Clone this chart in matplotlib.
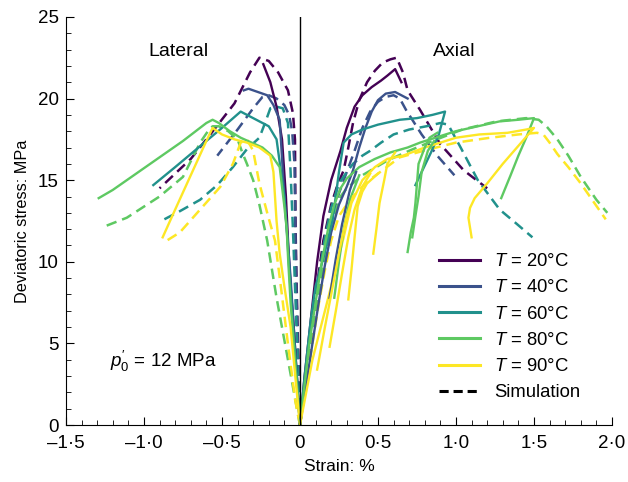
import matplotlib
matplotlib.use("Agg")
import matplotlib.pyplot as plt
from matplotlib.lines import Line2D
from matplotlib.ticker import MultipleLocator, FixedLocator, FixedFormatter

plt.rcParams['font.family'] = ['Liberation Sans', 'DejaVu Sans']
plt.rcParams['font.size'] = 12
plt.rcParams['mathtext.fontset'] = 'custom'
plt.rcParams['mathtext.it'] = 'Liberation Sans:italic'
plt.rcParams['mathtext.rm'] = 'Liberation Sans'

temps = [20, 40, 60, 80, 90]
colors = ['#440154', '#3b528b', '#21918c', '#5ec962', '#fde725']

# --- lateral strain, tests (solid) ---
lat_exp_20_x = [0, -0.02, -0.04, -0.06, -0.075, -0.09, -0.115, -0.15, -0.19, -0.235]
lat_exp_20_y = [0, 3, 6, 8.5, 11, 14, 17.5, 19.5, 21, 22.1]
lat_exp_40_x = [0, -0.02, -0.04, -0.06, -0.08, -0.1, -0.13, -0.17, -0.21, -0.27, -0.33, -0.36]
lat_exp_40_y = [0, 3, 6, 9, 11.5, 14, 18.7, 19.6, 20.2, 20.4, 20.6, 20.5]
lat_exp_60_x = [0, -0.02, -0.045, -0.065, -0.08, -0.1, -0.15, -0.2, -0.3, -0.38, -0.5, -0.65, -0.8, -0.94]
lat_exp_60_y = [0, 3, 6, 9, 11.3, 14, 17.5, 18.3, 18.8, 19.2, 18.2, 17.0, 15.8, 14.7]
lat_exp_80_x = [0, -0.02, -0.04, -0.06, -0.075, -0.085, -0.1, -0.13, -0.18, -0.24, -0.31, -0.38,
                -0.45, -0.52, -0.56, -0.6, -0.75, -0.9, -1.05, -1.2, -1.29]
lat_exp_80_y = [0, 2.5, 5, 7.5, 10, 12, 13.4, 15.8, 16.5, 17.0, 17.3, 17.6,
                18.0, 18.5, 18.7, 18.5, 17.4, 16.4, 15.4, 14.4, 13.9]
lat_exp_90_x = [0, -0.03, -0.06, -0.1, -0.13, -0.15, -0.16, -0.17, -0.19, -0.26, -0.34, -0.42,
                -0.5, -0.56, -0.6, -0.7, -0.8, -0.88]
lat_exp_90_y = [0, 3, 6, 8.5, 10.5, 12.5, 14, 15.5, 16.5, 17.0, 17.3, 17.5,
                17.8, 18.2, 17.4, 15.3, 13.2, 11.5]

# --- lateral strain, model (dashed) ---
lat_sim_20_x = [0, -0.01, -0.02, -0.028, -0.032, -0.045, -0.077, -0.14, -0.2, -0.26, -0.32,
                -0.42, -0.55, -0.7, -0.9]
lat_sim_20_y = [0, 4, 8, 12, 17.5, 19.1, 20.5, 21.6, 22.3, 22.5, 21.6, 19.7, 18.1, 16.3, 14.5]
lat_sim_40_x = [0, -0.012, -0.022, -0.03, -0.035, -0.05, -0.07, -0.1, -0.15, -0.2, -0.24,
                -0.3, -0.4, -0.53]
lat_sim_40_y = [0, 4, 8, 12, 16, 18, 19, 19.6, 20.0, 20.2, 20.1, 19.4, 18.1, 16.5]
lat_sim_60_x = [0, -0.015, -0.03, -0.045, -0.06, -0.077, -0.11, -0.15, -0.19, -0.22, -0.26,
                -0.34, -0.43, -0.53, -0.64, -0.77, -0.87]
lat_sim_60_y = [0, 4, 8, 12, 15.5, 18.5, 19.4, 19.5, 19.4, 18.6, 17.6,
                16.9, 15.8, 14.7, 13.8, 13.1, 12.6]
lat_sim_80_x = [0, -0.05, -0.1, -0.15, -0.21, -0.26, -0.3, -0.34, -0.37, -0.4, -0.46, -0.52,
                -0.56, -0.59, -0.64, -0.75, -0.9, -1.11, -1.27]
lat_sim_80_y = [0, 2.6, 5.2, 7.8, 11.3, 13.5, 15.0, 16.0, 16.7, 17.5, 18.0, 18.3,
                18.3, 18.0, 17.3, 15.2, 14.0, 12.7, 12.1]
lat_sim_90_x = [0, -0.03, -0.08, -0.12, -0.16, -0.21, -0.26, -0.3, -0.34, -0.38, -0.43,
                -0.51, -0.64, -0.77, -0.87]
lat_sim_90_y = [0, 1.5, 5.2, 8.3, 11.3, 13.0, 14.8, 16.8, 17.5, 17.3, 16.0, 14.6, 13.2, 11.8, 11.2]

# --- axial strain, tests (solid) ---
ax_exp_20_x = [0, 0.03, 0.07, 0.11, 0.15, 0.2, 0.26, 0.3, 0.35, 0.4, 0.46, 0.52, 0.56, 0.61, 0.65]
ax_exp_20_y = [0, 3, 6.5, 10, 12.8, 15, 16.8, 18.2, 19.5, 20.2, 20.7, 21.1, 21.4, 21.8, 21.0]
ax_exp_40_x = [0, 0.04, 0.08, 0.12, 0.16, 0.2, 0.25, 0.3, 0.34, 0.38, 0.42, 0.46, 0.5,
               0.55, 0.61, 0.65, 0.69]
ax_exp_40_y = [0, 2.5, 5, 7.5, 9.8, 11.8, 13.5, 14.6, 15.6, 17.0, 18.2, 19.2, 19.9,
               20.3, 20.4, 20.2, 20.0]
ax_exp_60_x = [0, 0.03, 0.07, 0.1, 0.13, 0.17, 0.21, 0.25, 0.28, 0.33, 0.4, 0.5, 0.64,
               0.75, 0.85, 0.93, 0.89, 0.84, 0.79, 0.74]
ax_exp_60_y = [0, 3, 6.5, 8.5, 9.5, 11, 12.6, 15.5, 17.3, 17.8, 18.1, 18.4, 18.7,
               18.8, 19.0, 19.2, 17.8, 16.7, 15.7, 14.7]
ax_exp_80_x = [0, 0.03, 0.06, 0.1, 0.14, 0.18, 0.22, 0.26, 0.3, 0.38, 0.48, 0.58, 0.69,
               0.77, 0.9, 1.0, 1.14, 1.28, 1.4, 1.5, 1.45, 1.4, 1.35, 1.29]
ax_exp_80_y = [0, 2.5, 5, 7.5, 10, 12, 13.5, 14.5, 15.1, 15.8, 16.3, 16.7, 17.0,
               17.3, 17.7, 18.0, 18.3, 18.6, 18.7, 18.8, 17.6, 16.5, 15.3, 13.9]
ax_exp_90_x = [0, 0.04, 0.08, 0.12, 0.16, 0.2, 0.24, 0.28, 0.33, 0.4, 0.48, 0.56, 0.66,
               0.8, 1.0, 1.15, 1.33, 1.45, 1.5, 1.4, 1.3, 1.2, 1.12, 1.09, 1.08, 1.09, 1.1]
ax_exp_90_y = [0, 2, 4, 5.5, 7, 8.5, 10, 11.5, 13.6, 15.0, 15.8, 16.3, 16.5,
               17.0, 17.6, 17.8, 17.9, 18.1, 18.2, 17.1, 16.0, 14.8, 13.9, 13.3, 12.7, 12.1, 11.5]

# reloading branches of repeated tests
rel_40_x = [0.19, 0.23, 0.27, 0.32, 0.36]
rel_40_y = [7.8, 10.2, 12.3, 14.4, 15.5]
rel_80a_x = [0.69, 0.71, 0.73, 0.74, 0.76, 0.8, 0.83, 0.88]
rel_80a_y = [10.6, 11.8, 12.7, 13.6, 16.0, 17.0, 17.6, 17.9]
rel_80b_x = [0.72, 0.74, 0.76, 0.78, 0.82, 0.86]
rel_80b_y = [11.5, 12.8, 14.0, 15.5, 16.8, 17.4]
rel_80c_x = [0.22, 0.25, 0.28, 0.32, 0.38]
rel_80c_y = [7.8, 10.0, 12.0, 13.8, 15.3]
rel_90a_x = [0.11, 0.16, 0.21, 0.26, 0.3, 0.34]
rel_90a_y = [3.4, 6.0, 8.5, 11.0, 12.8, 14.0]
rel_90b_x = [0.19, 0.23, 0.27, 0.31, 0.35, 0.4, 0.45]
rel_90b_y = [4.8, 7, 9.3, 11.5, 13.2, 14.6, 15.4]
rel_90c_x = [0.31, 0.33, 0.35, 0.37, 0.4, 0.43, 0.5]
rel_90c_y = [7.7, 9.5, 11.5, 13.4, 14.3, 14.8, 15.4]
rel_90d_x = [0.47, 0.49, 0.51, 0.54, 0.56, 0.61]
rel_90d_y = [10.5, 12.0, 13.6, 15.0, 16.0, 16.7]

# --- axial strain, model (dashed) ---
ax_sim_20_x = [0, 0.04, 0.08, 0.12, 0.15, 0.2, 0.24, 0.28, 0.31, 0.34, 0.38, 0.43, 0.48,
               0.53, 0.58, 0.62, 0.66, 0.69, 0.77, 0.9, 1.05, 1.2]
ax_sim_20_y = [0, 3, 6.3, 9.3, 11.3, 13.5, 14.7, 15.6, 17.0, 18.5, 19.9, 21.0, 21.7,
               22.2, 22.4, 22.5, 21.6, 20.5, 19.3, 17.2, 15.6, 14.5]
ax_sim_40_x = [0, 0.04, 0.08, 0.12, 0.16, 0.2, 0.25, 0.3, 0.35, 0.4, 0.45, 0.5, 0.55,
               0.6, 0.64, 0.68, 0.78, 0.88, 0.99]
ax_sim_40_y = [0, 2.8, 5.6, 8.3, 10.5, 12.5, 14.2, 15.5, 16.8, 18.2, 19.2, 19.8, 20.1,
               20.2, 20.0, 19.3, 17.8, 16.5, 15.3]
ax_sim_60_x = [0, 0.04, 0.08, 0.12, 0.16, 0.2, 0.25, 0.3, 0.34, 0.4, 0.45, 0.52, 0.6,
               0.7, 0.81, 0.9, 0.95, 1.03, 1.14, 1.28, 1.38, 1.49]
ax_sim_60_y = [0, 3, 6, 9, 11.5, 13.3, 14.8, 15.5, 16.0, 16.5, 16.8, 17.3, 17.8,
               18.1, 18.3, 18.5, 18.4, 17.0, 15.0, 13.2, 12.4, 11.5]
ax_sim_80_x = [0, 0.04, 0.08, 0.12, 0.16, 0.2, 0.26, 0.3, 0.4, 0.56, 0.7, 0.85, 1.04,
               1.26, 1.45, 1.53, 1.58, 1.65, 1.72, 1.8, 1.9, 1.97]
ax_sim_80_y = [0, 2.8, 5.6, 8.2, 10.5, 12.3, 14.0, 14.5, 15.3, 16.2, 16.8, 17.4, 18.1,
               18.6, 18.8, 18.7, 18.3, 17.5, 16.5, 15.2, 13.8, 13.0]
ax_sim_90_x = [0, 0.04, 0.08, 0.12, 0.16, 0.2, 0.25, 0.32, 0.43, 0.64, 0.83, 1.0, 1.22,
               1.4, 1.52, 1.56, 1.6, 1.65, 1.72, 1.8, 1.88, 1.96]
ax_sim_90_y = [0, 2.5, 5, 7.4, 9.5, 11.3, 12.8, 13.8, 14.9, 16.4, 16.9, 17.3, 17.6,
               17.8, 17.9, 17.8, 17.3, 16.6, 15.8, 14.8, 13.7, 12.6]

tick_vals = [-1.5, -1.0, -0.5, 0, 0.5, 1.0, 1.5, 2.0]
tick_text = ['\u20131\u00b75', '\u20131\u00b70', '\u20130\u00b75', '0',
             '0\u00b75', '1\u00b70', '1\u00b75', '2\u00b70']

exp_curves = [
    (lat_exp_20_x, lat_exp_20_y, 0), (lat_exp_40_x, lat_exp_40_y, 1),
    (lat_exp_60_x, lat_exp_60_y, 2), (lat_exp_80_x, lat_exp_80_y, 3),
    (lat_exp_90_x, lat_exp_90_y, 4),
    (ax_exp_20_x, ax_exp_20_y, 0), (ax_exp_40_x, ax_exp_40_y, 1),
    (ax_exp_60_x, ax_exp_60_y, 2), (ax_exp_80_x, ax_exp_80_y, 3),
    (ax_exp_90_x, ax_exp_90_y, 4),
    (rel_40_x, rel_40_y, 1), (rel_80a_x, rel_80a_y, 3), (rel_80b_x, rel_80b_y, 3),
    (rel_80c_x, rel_80c_y, 3), (rel_90a_x, rel_90a_y, 4), (rel_90b_x, rel_90b_y, 4),
    (rel_90c_x, rel_90c_y, 4), (rel_90d_x, rel_90d_y, 4),
]
sim_curves = [
    (lat_sim_20_x, lat_sim_20_y, 0), (lat_sim_40_x, lat_sim_40_y, 1),
    (lat_sim_60_x, lat_sim_60_y, 2), (lat_sim_80_x, lat_sim_80_y, 3),
    (lat_sim_90_x, lat_sim_90_y, 4),
    (ax_sim_20_x, ax_sim_20_y, 0), (ax_sim_40_x, ax_sim_40_y, 1),
    (ax_sim_60_x, ax_sim_60_y, 2), (ax_sim_80_x, ax_sim_80_y, 3),
    (ax_sim_90_x, ax_sim_90_y, 4),
]

fig = plt.figure(figsize=(6.28, 4.82), dpi=100)
ax = fig.add_axes([0.105, 0.118, 0.8695, 0.847])

for xs, ys, i in sim_curves:
    ax.plot(xs, ys, color=colors[i], lw=1.8, dashes=(4.2, 2.4))
for xs, ys, i in exp_curves:
    ax.plot(xs, ys, color=colors[i], lw=1.7)

ax.axvline(0, color='k', lw=1.0)

ax.set_xlim(-1.5, 2.0)
ax.set_ylim(0, 25)
ax.spines['top'].set_visible(False)
ax.spines['right'].set_visible(False)
ax.xaxis.set_major_locator(FixedLocator(tick_vals))
ax.xaxis.set_major_formatter(FixedFormatter(tick_text))
ax.xaxis.set_minor_locator(MultipleLocator(0.1))
ax.yaxis.set_major_locator(MultipleLocator(5))
ax.yaxis.set_minor_locator(MultipleLocator(1))
ax.tick_params(which='both', direction='in', labelsize=13.5)
ax.tick_params(which='major', length=6)
ax.tick_params(which='minor', length=3.5)
ax.tick_params(axis='x', pad=7)
ax.tick_params(axis='y', pad=5)

ax.set_xlabel('Strain: %', fontsize=12.5, labelpad=5)
ax.set_ylabel('Deviatoric stress: MPa', fontsize=11.7, labelpad=6)

ax.text(-0.78, 22.85, 'Lateral', ha='center', va='center', fontsize=14)
ax.text(0.99, 22.85, 'Axial', ha='center', va='center', fontsize=14)
ax.text(-1.22, 3.9, r"$p_0^{\prime}$ = 12 MPa", ha='left', va='center', fontsize=13.5)

handles = [Line2D([], [], color=c, lw=2.2) for c in colors]
handles.append(Line2D([], [], color='k', lw=2.2, dashes=(3, 1.6)))
labels = ['$T$ = %d\u00b0C' % t for t in temps] + ['Simulation']
ax.legend(handles, labels, loc='lower right', bbox_to_anchor=(0.955, 0.04),
          frameon=False, fontsize=13.3, handlelength=2.2, labelspacing=0.5,
          borderaxespad=0, handletextpad=0.75)

fig.savefig('out.png', dpi=100)
